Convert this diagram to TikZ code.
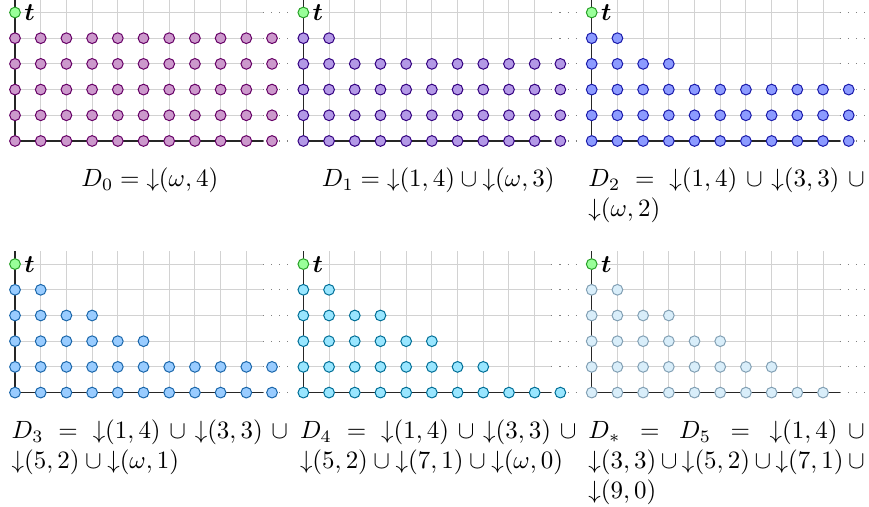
\documentclass[tikz,border=0pt]{standalone}
\usepackage{amsmath, amssymb}
\usepackage{bm}
\usetikzlibrary{positioning}
\definecolor{gridGray}{RGB}{210,210,210}
\definecolor{tFill}{RGB}{153,255,153}
\definecolor{tLine}{RGB}{40,160,40}
\definecolor{fillA}{RGB}{204,153,204}
\definecolor{lineA}{RGB}{102,0,102}
\definecolor{fillB}{RGB}{179,153,230}
\definecolor{lineB}{RGB}{51,0,128}
\definecolor{fillC}{RGB}{140,155,255}
\definecolor{lineC}{RGB}{26,26,170}
\definecolor{fillD}{RGB}{153,204,255}
\definecolor{lineD}{RGB}{26,102,170}
\definecolor{fillE}{RGB}{153,230,255}
\definecolor{lineE}{RGB}{0,110,150}
\definecolor{fillF}{RGB}{217,238,250}
\definecolor{lineF}{RGB}{130,160,180}

\begin{document}
\begin{tikzpicture}[x=10.3pt, y=10.3pt,
      gridline/.style={gridGray, line width=0.4pt},
      axisline/.style={black!85, line width=0.55pt},
      more/.style={gray, line width=0.45pt, dash pattern=on 0.45pt off 2.8pt},
      dot/.style={circle, draw=line#1, fill=fill#1, line width=0.4pt, minimum size=4.3pt, inner sep=0pt},
      tdot/.style={circle, draw=tLine, fill=tFill, line width=0.4pt, minimum size=4.3pt, inner sep=0pt},
      caption/.style={anchor=base west, text width=110.8pt, inner sep=0pt}]

      \useasboundingbox (-0.584,-14.24) rectangle (33.23,5.486);

      % one panel per down-set, rows listed from top (4) to bottom (0), 10 = omega
      \foreach \n/\ox/\oy/\tone/\rows/\pos/\txt in {
          0/0/0/A/{10,10,10,10,10}/flush center/{$D_0 = {\downarrow}(\omega,4)$},
          1/11.22/0/B/{1,10,10,10,10}/flush center/{$D_1 = {\downarrow}(1,4) \cup {\downarrow}(\omega,3)$},
          2/22.44/0/C/{1,3,10,10,10}/justify/{$D_2 = {\downarrow}(1,4) \cup {\downarrow}(3,3) \cup {\downarrow}(\omega,2)$},
          3/0/-9.79/D/{1,3,5,10,10}/justify/{$D_3 = {\downarrow}(1,4) \cup {\downarrow}(3,3) \cup {\downarrow}(5,2) \cup {\downarrow}(\omega,1)$},
          4/11.22/-9.79/E/{1,3,5,7,10}/justify/{$D_4 = {\downarrow}(1,4) \cup {\downarrow}(3,3) \cup {\downarrow}(5,2) \cup {\downarrow}(7,1) \cup {\downarrow}(\omega,0)$},
          5/22.44/-9.79/F/{1,3,5,7,9}/justify/{$D_* = D_5 = {\downarrow}(1,4) \cup {\downarrow}(3,3) \cup {\downarrow}(5,2) \cup {\downarrow}(7,1) \cup {\downarrow}(9,0)$}}{
        \begin{scope}[shift={(\ox,\oy)}]
          \foreach \c in {1,...,9}
            \draw[gridline] (\c,0) -- (\c,5.5);
          \foreach \r in {1,...,5} {
            \draw[gridline] (0,\r) -- (9.65,\r);
            \draw[more] (9.65,\r) -- (10.75,\r);
          }
          \draw[more] (9.65,0) -- (10.75,0);
          \draw[axisline] (0,5.5) -- (0,0) -- (9.65,0);

          \foreach \m [count=\k] in \rows {
            \pgfmathtruncatemacro\rr{5-\k}
            \foreach \c in {0,...,\m}
              \node[dot=\tone] (d\n-\c-\rr) at (\c,\rr) {};
          }

          \node[tdot] (t\n) at (0,5) {};
          \node[right=1.2pt of t\n, inner sep=0pt] (tl\n) {$\bm{t}$};

          \node[caption, align=\pos] (cap\n) at (-0.15,-1.79) {\txt};
        \end{scope}
      }
  \end{tikzpicture}
\end{document}
